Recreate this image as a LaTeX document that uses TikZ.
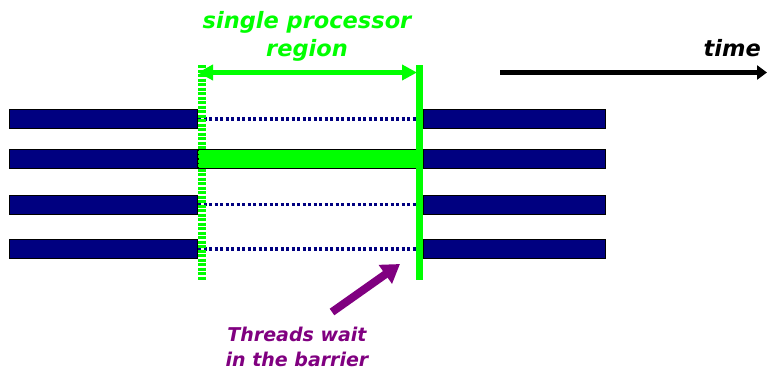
\documentclass[tikz,border=0pt]{standalone}
\usepackage{fontspec}
\setmainfont{DejaVu Sans}
\usetikzlibrary{arrows.meta}
\definecolor{navy}{HTML}{000080}
\definecolor{lime}{HTML}{00FF00}
\definecolor{purp}{HTML}{800080}
\tikzset{
  bar/.style={draw=black, line width=0.8pt, fill=navy},
  waitline/.style={navy, line width=3.5pt, dash pattern=on 3pt off 2.5pt},
  lbl/.style={font=\bfseries\itshape\fontsize{19}{25}\selectfont, align=center, inner sep=0pt},
  biglbl/.style={font=\bfseries\itshape\fontsize{22.5}{28}\selectfont, align=center, inner sep=0pt},
}
\begin{document}
\begin{tikzpicture}[x=1pt,y=-1pt]
\useasboundingbox (0,0) rectangle (767,372);
% bars
\foreach \n/\y in {1/109,2/149,3/195,4/239}{
  \path[bar] (9,\y) rectangle (197,\y+19.5);
  \path[bar] (423,\y) rectangle (605,\y+19.5);
}
% green bar
\path[draw=black, line width=0.8pt, fill=lime] (198,149) rectangle (423,168.5);
% dotted wait lines
\coordinate (w1a) at (198,119); \coordinate (w1b) at (416,119);
\coordinate (w3a) at (198,204.5); \coordinate (w3b) at (416,204.5);
\coordinate (w4a) at (198,249); \coordinate (w4b) at (416,249);
\draw[waitline] (w1a) -- (w1b);
\draw[waitline] (w3a) -- (w3b);
\draw[waitline] (w4a) -- (w4b);
% vertical lines
\coordinate (s1) at (202,65); \coordinate (s2) at (202,280);
\coordinate (b1) at (419.5,65); \coordinate (b2) at (419.5,280);
\draw[lime, line width=8pt, dash pattern=on 3pt off 1.5pt] (s1) -- (s2);
\draw[lime, line width=7.5pt] (b1) -- (b2);
% region arrow
\coordinate (r1) at (198,72.5); \coordinate (r2) at (417,72.5);
\draw[lime, line width=4.5pt, {Triangle[length=15pt,width=15pt]}-{Triangle[length=15pt,width=15pt]}] (r1) -- (r2);
\node[biglbl, text=lime] (title) at (307,36) {single processor\\region};
% time arrow
\coordinate (t1) at (500,72.5); \coordinate (t2) at (767,72.5);
\draw[black, line width=5pt, -{Triangle[length=10pt,width=14pt]}] (t1) -- (t2);
\node[biglbl, text=black, anchor=east] (time) at (761,48) {time};
% barrier arrow
\coordinate (p1) at (332,312); \coordinate (p2) at (400,264);
\draw[purp, line width=8pt, -{Triangle[length=18pt,width=22pt]}] (p1) -- (p2);
\node[lbl, text=purp] (wait) at (297,347) {Threads wait\\in the barrier};
\end{tikzpicture}
\end{document}
